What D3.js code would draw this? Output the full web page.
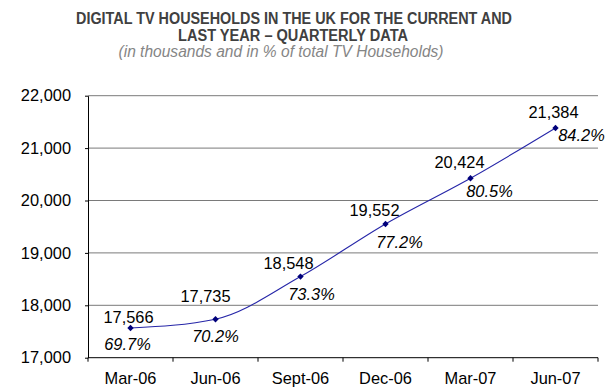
<!DOCTYPE html>
<html>
<head>
<meta charset="utf-8">
<script src="https://cdn.jsdelivr.net/npm/d3@7/dist/d3.min.js"></script>
<style>
  html, body { margin: 0; padding: 0; background: #fff; }
  svg { display: block; font-family: "Liberation Sans", Arial, sans-serif; }
</style>
</head>
<body>
<svg id="chart" width="608" height="387"></svg>
<script>
// ---- data ----
const categories = ["Mar-06", "Jun-06", "Sept-06", "Dec-06", "Mar-07", "Jun-07"];
const households = [17566, 17735, 18548, 19552, 20424, 21384];
const percentShare = [69.7, 70.2, 73.3, 77.2, 80.5, 84.2];
const yTickValues = [17000, 18000, 19000, 20000, 21000, 22000];
const titleLines = ["DIGITAL TV HOUSEHOLDS IN THE UK FOR THE CURRENT AND", "LAST YEAR \u2013 QUARTERLY DATA"];
const subtitle = "(in thousands and in % of total TV Households)";

// ---- layout (label placement offsets relative to each point) ----
const valueLabelOffset = [[-2, -5.5], [-10, -17], [-12, -7.5], [-11, -7.5], [-11, -10.5], [-2, -9.5]];
const pctLabelOffset = [[-3, 22], [0, 22.5], [11, 23], [14, 24], [19, 18.5], [26, 13.5]];

const svg = d3.select("#chart");
const plotLeft = 88, plotRight = 598, plotTop = 95.7, plotBottom = 357.7;

const x = d3.scaleBand().domain(categories).range([plotLeft, plotRight]).padding(0);
const y = d3.scaleLinear().domain([17000, 22000]).range([plotBottom, plotTop]);

// Title
svg.append("text").attr("x", 294).attr("y", 24).attr("text-anchor", "middle")
  .attr("font-size", 15.6).attr("font-weight", "bold").attr("fill", "#404040")
  .attr("textLength", 436).attr("lengthAdjust", "spacingAndGlyphs")
  .text(titleLines[0]);
svg.append("text").attr("x", 293).attr("y", 41).attr("text-anchor", "middle")
  .attr("font-size", 15.6).attr("font-weight", "bold").attr("fill", "#404040")
  .attr("textLength", 230).attr("lengthAdjust", "spacingAndGlyphs")
  .text(titleLines[1]);
svg.append("text").attr("x", 281).attr("y", 57).attr("text-anchor", "middle")
  .attr("font-size", 15.6).attr("font-style", "italic").attr("fill", "#858585")
  .attr("textLength", 325).attr("lengthAdjust", "spacingAndGlyphs")
  .text(subtitle);

// Gridlines
svg.append("g").selectAll("line").data(yTickValues.filter(v => v > 17000)).join("line")
  .attr("x1", plotLeft).attr("x2", plotRight)
  .attr("y1", d => y(d)).attr("y2", d => y(d))
  .attr("stroke", "#7a7a7a").attr("stroke-width", 1);

// Y axis
const yAxis = svg.append("g").attr("transform", `translate(${plotLeft},0)`)
  .call(d3.axisLeft(y).tickValues(yTickValues).tickFormat(d3.format(",")).tickSize(3).tickSizeOuter(0).tickPadding(14));
yAxis.select(".domain").attr("stroke", "#000");
yAxis.selectAll(".tick line").attr("stroke", "#000");
yAxis.selectAll("text").attr("font-size", 16.4).attr("fill", "#000")
  .attr("font-family", '"Liberation Sans", Arial, sans-serif');

// X axis (labels centred in bands, tick marks at band edges)
const xAxis = svg.append("g").attr("transform", `translate(0,${plotBottom})`)
  .call(d3.axisBottom(x).tickSize(0).tickPadding(15));
xAxis.select(".domain").remove();
xAxis.selectAll("text").attr("font-size", 16.4).attr("fill", "#000")
  .attr("font-family", '"Liberation Sans", Arial, sans-serif');
const edges = categories.map(c => x(c)).concat([x(categories[categories.length - 1]) + x.bandwidth()]);
svg.append("line").attr("x1", plotLeft).attr("x2", plotRight).attr("y1", plotBottom).attr("y2", plotBottom)
  .attr("stroke", "#000");
svg.append("g").selectAll("line").data(edges).join("line")
  .attr("x1", d => d).attr("x2", d => d).attr("y1", plotBottom).attr("y2", plotBottom + 4)
  .attr("stroke", "#000");

// Line
const pts = categories.map((c, i) => [x(c) + x.bandwidth() / 2, y(households[i])]);
svg.append("path").datum(pts)
  .attr("d", d3.line().curve(d3.curveMonotoneX))
  .attr("fill", "none").attr("stroke", "#2626a8").attr("stroke-width", 1.1);

// Markers
svg.append("g").selectAll("path").data(pts).join("path")
  .attr("transform", d => `translate(${d[0]},${d[1]})`)
  .attr("d", d3.symbol().type(d3.symbolDiamond2).size(26))
  .attr("fill", "#00007a");

// Value labels
svg.append("g").selectAll("text").data(pts).join("text")
  .attr("x", (d, i) => d[0] + valueLabelOffset[i][0])
  .attr("y", (d, i) => d[1] + valueLabelOffset[i][1])
  .attr("text-anchor", "middle").attr("font-size", 16.4).attr("fill", "#000")
  .text((d, i) => d3.format(",")(households[i]));

// Percent labels
svg.append("g").selectAll("text").data(pts).join("text")
  .attr("x", (d, i) => d[0] + pctLabelOffset[i][0])
  .attr("y", (d, i) => d[1] + pctLabelOffset[i][1])
  .attr("text-anchor", "middle").attr("font-size", 16.4).attr("font-style", "italic").attr("fill", "#000")
  .text((d, i) => percentShare[i].toFixed(1) + "%");
</script>
</body>
</html>
